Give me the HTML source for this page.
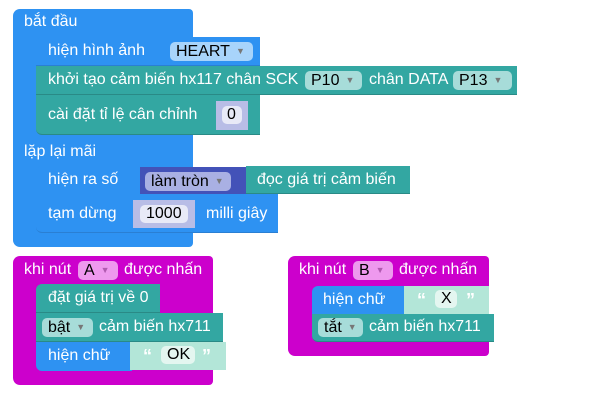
<!DOCTYPE html>
<html><head><meta charset="utf-8"><style>
body{margin:0;width:598px;height:413px;background:#fff;position:relative;overflow:hidden;font-family:"Liberation Sans",sans-serif;font-size:16px;color:#fff}
div{position:absolute;box-sizing:border-box}
.b{background:#2e92f2}
.t{background:#33a7a2;border-bottom:1px solid #2a8a86}
.p{background:#cc00cc}
.d{background:#4352b8}
.s{background:#b3e6d8}
.l{white-space:nowrap;line-height:1}
.f{border-radius:5px;color:#000;padding-left:6px;line-height:18px;white-space:nowrap}
.ar{font-size:9px;color:#777;margin-left:6px;vertical-align:2px}
</style></head><body>
<div class="b" style="left:13px;top:9px;width:180px;height:238px;border-radius:7px 4px 4px 7px"></div>
<div class="l" style="left:24px;top:14px">bắt đầu</div>
<div class="l" style="left:24px;top:144px">lặp lại mãi</div>
<div class="b" style="left:36px;top:37px;width:224px;height:29px;border-radius:6px 0 0 0;border-bottom:1px solid #2a7fd3"></div>
<div class="l" style="left:48px;top:43px">hiện hình ảnh</div>
<div class="f" style="left:170px;top:42px;width:83px;background:#a8d4fb">HEART<span class="ar">▼</span></div>
<div class="t" style="left:36px;top:66px;width:481px;height:29px"></div>
<div class="l" style="left:48px;top:72px">khởi tạo cảm biến hx117 chân SCK</div>
<div class="f" style="left:305px;top:71px;width:57px;background:#a7dcd9">P10<span class="ar">▼</span></div>
<div class="l" style="left:369px;top:72px">chân DATA</div>
<div class="f" style="left:453px;top:71px;width:59px;background:#a7dcd9">P13<span class="ar">▼</span></div>
<div class="t" style="left:36px;top:95px;width:224px;height:40px;border-radius:0 0 0 6px"></div>
<div class="l" style="left:48px;top:107px">cài đặt tỉ lệ cân chỉnh</div>
<div style="left:216px;top:101px;width:32px;height:29px;background:#b8bde6"></div>
<div class="f" style="left:222px;top:106px;width:20px;background:#e8eaf7;padding-left:5px">0</div>
<div class="b" style="left:36px;top:166px;width:105px;height:28px;border-radius:6px 0 0 0"></div>
<div class="l" style="left:48px;top:172px">hiện ra số</div>
<div class="d" style="left:140px;top:167px;width:107px;height:27px"></div>
<div class="f" style="left:145px;top:172px;width:86px;background:#a9b0e3">làm tròn<span class="ar">▼</span></div>
<div class="t" style="left:246px;top:166px;width:164px;height:28px"></div>
<div class="l" style="left:257px;top:172px">đọc giá trị cảm biến</div>
<div class="b" style="left:36px;top:194px;width:242px;height:39px;border-radius:0 0 0 6px;border-bottom:1px solid #2a7fd3"></div>
<div class="l" style="left:48px;top:206px">tạm dừng</div>
<div style="left:133px;top:200px;width:62px;height:28px;background:#b8bde6"></div>
<div class="f" style="left:140px;top:205px;width:48px;background:#e8eaf7">1000</div>
<div class="l" style="left:206px;top:206px">milli giây</div>
<div class="p" style="left:13px;top:256px;width:200px;height:129px;border-radius:7px 4px 4px 7px"></div>
<div class="l" style="left:24px;top:262px">khi nút</div>
<div class="f" style="left:78px;top:261px;width:40px;background:#ee99ee">A<span class="ar" style="color:#b05ab0">▼</span></div>
<div class="l" style="left:124px;top:262px">được nhấn</div>
<div class="t" style="left:36px;top:284px;width:124px;height:29px;border-radius:6px 0 0 0"></div>
<div class="l" style="left:48px;top:290px">đặt giá trị về 0</div>
<div class="t" style="left:36px;top:313px;width:187px;height:29px"></div>
<div class="f" style="left:42px;top:318px;width:51px;background:#a7dcd9">bật<span class="ar">▼</span></div>
<div class="l" style="left:99px;top:319px">cảm biến hx711</div>
<div class="b" style="left:36px;top:342px;width:96px;height:29px;border-radius:0 0 0 6px"></div>
<div class="l" style="left:48px;top:348px">hiện chữ</div>
<div class="s" style="left:130px;top:342px;width:96px;height:28px"></div>
<div class="l" style="left:143px;top:347px;font-weight:bold;font-size:18px">“</div>
<div class="f" style="left:161px;top:346px;width:34px;background:#e4f6f0">OK</div>
<div class="l" style="left:202px;top:347px;font-weight:bold;font-size:18px">”</div>
<div class="p" style="left:288px;top:256px;width:201px;height:100px;border-radius:7px 4px 4px 7px"></div>
<div class="l" style="left:299px;top:262px">khi nút</div>
<div class="f" style="left:353px;top:261px;width:40px;background:#ee99ee">B<span class="ar" style="color:#b05ab0">▼</span></div>
<div class="l" style="left:399px;top:262px">được nhấn</div>
<div class="b" style="left:312px;top:286px;width:94px;height:28px;border-radius:6px 0 0 0"></div>
<div class="l" style="left:323px;top:292px">hiện chữ</div>
<div class="s" style="left:404px;top:286px;width:85px;height:28px"></div>
<div class="l" style="left:417px;top:291px;font-weight:bold;font-size:18px">“</div>
<div class="f" style="left:435px;top:290px;width:22px;background:#e4f6f0">X</div>
<div class="l" style="left:466px;top:291px;font-weight:bold;font-size:18px">”</div>
<div class="t" style="left:312px;top:314px;width:182px;height:28px;border-radius:0 0 0 6px"></div>
<div class="f" style="left:318px;top:318px;width:45px;background:#a7dcd9">tắt<span class="ar">▼</span></div>
<div class="l" style="left:369px;top:319px">cảm biến hx711</div>
</body></html>
